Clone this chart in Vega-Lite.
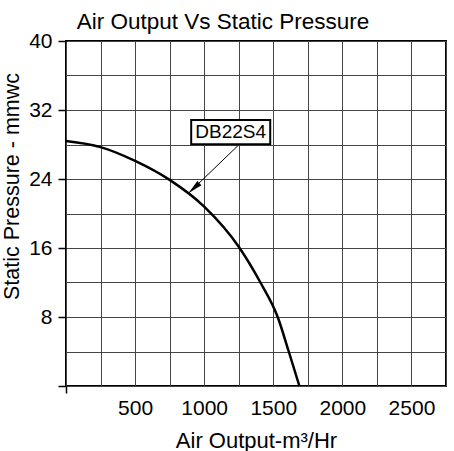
{
  "$schema": "https://vega.github.io/schema/vega-lite/v6.json",
  "autosize": {"type": "none"},
  "padding": {"left": 66, "top": 41, "right": 8, "bottom": 65},
  "width": 380,
  "height": 345,
  "background": "white",
  "config": {
    "font": "Liberation Sans",
    "view": {"stroke": "black", "strokeWidth": 2}
  },
  "title": {
    "text": "Air Output Vs Static Pressure",
    "font": "Liberation Sans",
    "fontSize": 22.5,
    "fontWeight": "normal",
    "color": "black",
    "anchor": "middle",
    "baseline": "alphabetic",
    "offset": 0,
    "dy": 21,
    "dx": -33
  },
  "resolve": {"axis": {"x": "independent", "y": "independent"}},
  "datasets": {
    "curve": [
      {"airflow": 0, "pressure": 28.4},
      {"airflow": 250, "pressure": 27.7},
      {"airflow": 500, "pressure": 26.1},
      {"airflow": 750, "pressure": 23.9},
      {"airflow": 1000, "pressure": 20.8},
      {"airflow": 1250, "pressure": 16.15},
      {"airflow": 1407, "pressure": 12.0},
      {"airflow": 1532, "pressure": 8.0},
      {"airflow": 1612, "pressure": 4.0},
      {"airflow": 1689, "pressure": 0.0}
    ],
    "label": [
      {"name": "DB22S4", "bx1": 906, "bx2": 1478, "by1": 28.02, "by2": 30.84, "tx": 1192, "ty": 29.43, "ax1": 1249, "ay1": 27.94, "ax2": 886, "ay2": 22.34}
    ]
  },
  "layer": [
    {
      "data": {"name": "curve"},
      "mark": {"type": "line", "color": "black", "strokeWidth": 2.5, "interpolate": "monotone"},
      "encoding": {
        "x": {
          "field": "airflow",
          "type": "quantitative",
          "scale": {"domain": [0, 2750], "nice": false, "zero": false},
          "axis": {
            "orient": "bottom",
            "values": [0, 250, 500, 750, 1000, 1250, 1500, 1750, 2000, 2250, 2500, 2750],
            "grid": true,
            "gridColor": "#444444",
            "gridOpacity": 1,
            "gridWidth": 1,
            "labels": false,
            "ticks": false,
            "domain": false,
            "title": null
          }
        },
        "y": {
          "field": "pressure",
          "type": "quantitative",
          "scale": {"domain": [0, 40], "nice": false, "zero": false},
          "axis": {
            "orient": "left",
            "values": [0, 4, 8, 12, 16, 20, 24, 28, 32, 36, 40],
            "grid": true,
            "gridColor": "#444444",
            "gridOpacity": 1,
            "gridWidth": 1,
            "labels": false,
            "ticks": false,
            "domain": false,
            "title": null
          }
        }
      }
    },
    {
      "data": {"name": "label"},
      "mark": {"type": "rule", "color": "black", "strokeWidth": 1},
      "encoding": {
        "x": {
          "field": "ax1",
          "type": "quantitative",
          "axis": {
            "orient": "bottom",
            "values": [0, 500, 1000, 1500, 2000, 2500],
            "format": "d",
            "labelOpacity": {"condition": {"test": "datum.value > 0", "value": 1}, "value": 0},
            "labelOverlap": false,
            "labelFlush": false,
            "grid": false,
            "domain": false,
            "ticks": true,
            "tickSize": 7,
            "tickColor": "black",
            "tickWidth": 1.5,
            "tickOpacity": {"condition": {"test": "datum.value == 0", "value": 1}, "value": 0},
            "labelFont": "Liberation Sans",
            "labelFontSize": 21,
            "labelColor": "black",
            "labelPadding": 4,
            "title": "Air Output-m³/Hr",
            "titleFont": "Liberation Sans",
            "titleFontSize": 22,
            "titleFontWeight": "normal",
            "titleColor": "black",
            "titleBaseline": "alphabetic",
            "titleY": 61
          }
        },
        "y": {
          "field": "ay1",
          "type": "quantitative",
          "axis": {
            "orient": "left",
            "values": [0, 8, 16, 24, 32, 40],
            "labelOpacity": {"condition": {"test": "datum.value > 0", "value": 1}, "value": 0},
            "labelOverlap": false,
            "labelFlush": false,
            "grid": false,
            "domain": false,
            "ticks": true,
            "tickSize": 8,
            "tickColor": "black",
            "tickWidth": 1.5,
            "labelFont": "Liberation Sans",
            "labelFontSize": 21,
            "labelColor": "black",
            "labelPadding": 6,
            "title": "Static Pressure - mmwc",
            "titleFont": "Liberation Sans",
            "titleFontSize": 21.5,
            "titleFontWeight": "normal",
            "titleColor": "black",
            "titleBaseline": "alphabetic",
            "titleX": -48,
            "titleY": 145
          }
        },
        "x2": {"field": "ax2"},
        "y2": {"field": "ay2"}
      }
    },
    {
      "data": {"name": "label"},
      "mark": {"type": "point", "shape": "M0,0L-0.4,-2L0.4,-2Z", "filled": true, "color": "black", "opacity": 1, "size": 225, "angle": 47},
      "encoding": {
        "x": {"field": "ax2", "type": "quantitative", "axis": null},
        "y": {"field": "ay2", "type": "quantitative", "axis": null}
      }
    },
    {
      "data": {"name": "label"},
      "mark": {"type": "rect", "fill": "white", "stroke": "black", "strokeWidth": 2},
      "encoding": {
        "x": {"field": "bx1", "type": "quantitative", "axis": null},
        "x2": {"field": "bx2"},
        "y": {"field": "by1", "type": "quantitative", "axis": null},
        "y2": {"field": "by2"}
      }
    },
    {
      "data": {"name": "label"},
      "mark": {"type": "text", "font": "Liberation Sans", "fontSize": 19, "color": "black", "align": "center", "baseline": "middle"},
      "encoding": {
        "x": {"field": "tx", "type": "quantitative", "axis": null},
        "y": {"field": "ty", "type": "quantitative", "axis": null},
        "text": {"field": "name"}
      }
    }
  ]
}
